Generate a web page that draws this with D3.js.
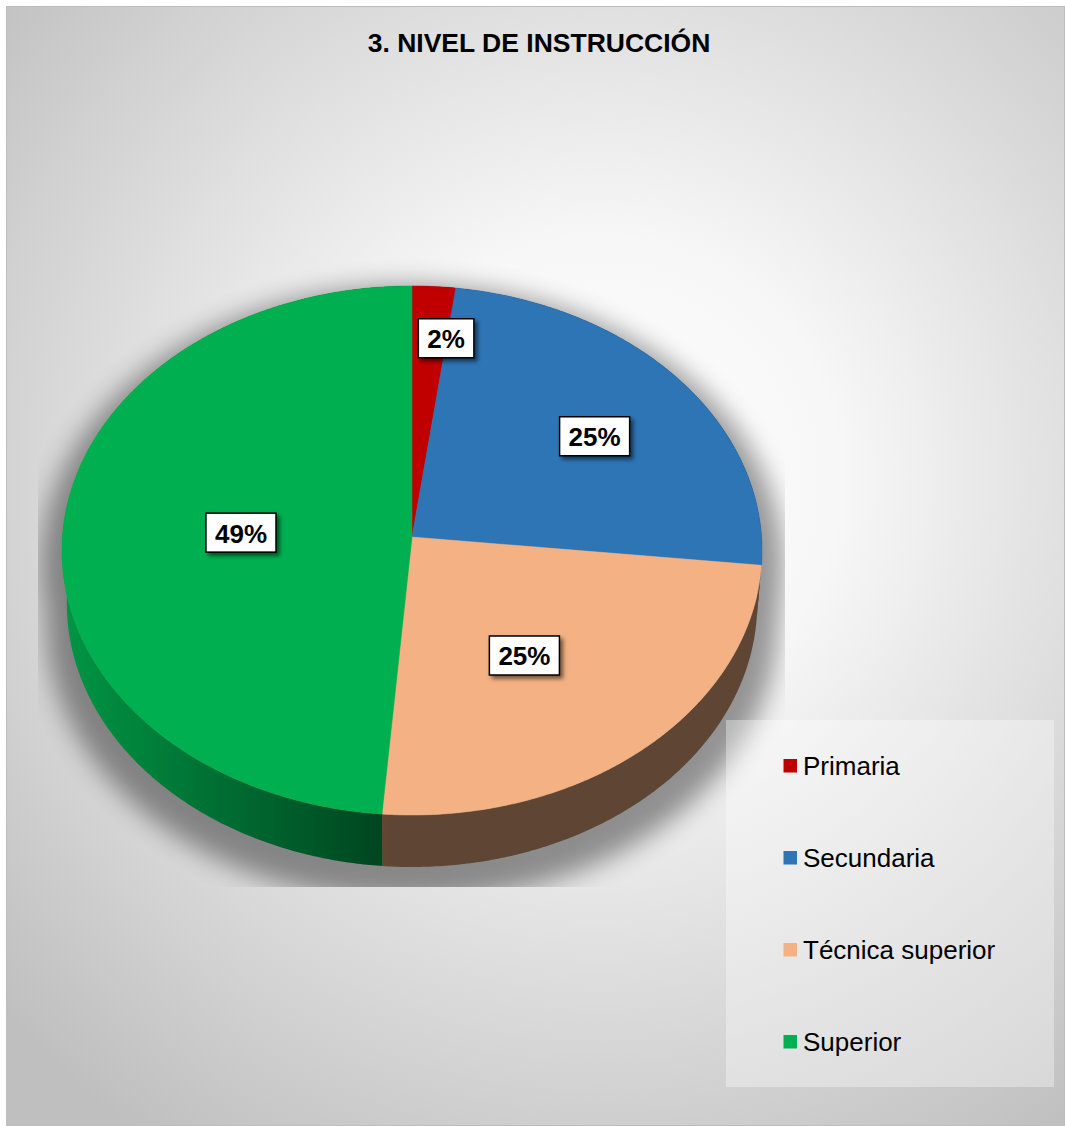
<!DOCTYPE html>
<html>
<head>
<meta charset="utf-8">
<script src="https://cdn.jsdelivr.net/npm/d3@7"></script>
<style>
  html, body { margin: 0; padding: 0; background: #ffffff; }
  svg { display: block; }
  text { font-family: Arial, "Liberation Sans", sans-serif; }
</style>
</head>
<body>
<svg id="chart" width="1065" height="1126"></svg>
<script>
// ---------- data ----------
const title = "3. NIVEL DE INSTRUCCIÓN";
const categories = ["Primaria", "Secundaria", "Técnica superior", "Superior"];
const values = [2.1, 24.6, 24.6, 48.7];
const labelTexts = ["2%", "25%", "25%", "49%"];
const colors = ["#C00000", "#2E75B6", "#F4B183", "#00B050"];

// ---------- layout ----------
const cx = 412, cy = 537;          // screen position of pie centre (top face)
const R = 1, dist = 12.84, elev = Math.asin(0.7548), focal = 4488, thick = 0.235;
const labelRadius = [0.79, 0.66, 0.54, 0.49];
const labelShiftDeg = [3.6, 2, 4, -0.4];

const svg = d3.select("#chart");
const defs = svg.append("defs");

// background radial gradient
const bg = defs.append("radialGradient").attr("id", "bgGrad")
  .attr("gradientUnits", "userSpaceOnUse")
  .attr("cx", 600).attr("cy", 480).attr("r", 800);
bg.append("stop").attr("offset", 0).attr("stop-color", "#ffffff");
bg.append("stop").attr("offset", 0.3).attr("stop-color", "#f7f7f7");
bg.append("stop").attr("offset", 1).attr("stop-color", "#bfbfbf");

const blur = defs.append("filter").attr("id", "pieShadow")
  .attr("x", "-20%").attr("y", "-20%").attr("width", "140%").attr("height", "140%");
blur.append("feGaussianBlur").attr("stdDeviation", 12);

const ds = defs.append("filter").attr("id", "lblShadow")
  .attr("x", "-30%").attr("y", "-30%").attr("width", "160%").attr("height", "170%");
ds.append("feDropShadow").attr("dx", 3).attr("dy", 3).attr("stdDeviation", 2.2)
  .attr("flood-color", "#000").attr("flood-opacity", 0.55);

defs.append("clipPath").attr("id", "plotClip")
  .append("rect").attr("x", 38).attr("y", 200).attr("width", 747).attr("height", 687);

svg.append("rect").attr("x", 6.5).attr("y", 6.5).attr("width", 1058).attr("height", 1119)
  .attr("fill", "url(#bgGrad)").attr("stroke", "#bdbdbd").attr("stroke-width", 1);

// title
svg.append("text").attr("x", 539).attr("y", 52).attr("text-anchor", "middle")
  .attr("font-size", 26.5).attr("font-weight", "bold").attr("fill", "#000").text(title);

// ---------- 3D projection ----------
const se = Math.sin(elev), ce = Math.cos(elev);
function proj(X, Y, Z) {
  const depth = dist - Y * se + Z * ce;
  const sy = Y * ce + Z * se;
  return [cx + focal * X / depth, cy - focal * sy / depth];
}
function rim(phi, r, Y) { return proj(R * r * Math.sin(phi), Y, R * r * Math.cos(phi)); }

const pie = d3.pie().sort(null).value(d => d)(values);
const line = d3.line();

function arcAngles(s) {
  const n = Math.max(2, Math.ceil((s.endAngle - s.startAngle) / (Math.PI / 360)));
  return d3.range(n + 1).map(k => s.startAngle + (s.endAngle - s.startAngle) * k / n);
}
function topPoints(s) {
  return [proj(0, 0, 0)].concat(arcAngles(s).map(a => rim(a, 1, 0)));
}
function sidePoints(s) {
  const a = arcAngles(s);
  return a.map(t => rim(t, 1, 0)).concat(a.slice().reverse().map(t => rim(t, 1, -thick)));
}

// side shading gradients (darker towards the front, lighter towards the left)
const leftX = rim(-Math.PI / 2, 1, 0)[0];
colors.forEach((c, i) => {
  const g = defs.append("linearGradient").attr("id", "side" + i)
    .attr("gradientUnits", "userSpaceOnUse")
    .attr("x1", leftX).attr("y1", 0).attr("x2", cx).attr("y2", 0);
  d3.range(0, 1.0001, 0.05).forEach(t => {
    const factor = Math.max(0.39, 0.35 + 0.5 * (1 - t));
    const b = d3.rgb(c);
    g.append("stop").attr("offset", t)
      .attr("stop-color", d3.rgb(b.r * factor, b.g * factor, b.b * factor).formatHex());
  });
});

// shadow of the pie
const shadowG = svg.append("g").attr("clip-path", "url(#plotClip)")
  .append("g").attr("filter", "url(#pieShadow)").attr("opacity", 0.4)
  .attr("transform", `translate(${cx},${560 + 16}) scale(1.06) translate(${-cx},${-560})`);
pie.forEach(s => {
  shadowG.append("path").attr("d", line(topPoints(s)) + "Z").attr("fill", "#000");
  shadowG.append("path").attr("d", line(sidePoints(s)) + "Z").attr("fill", "#000");
});

// sides
svg.append("g").selectAll("path").data(pie).join("path")
  .attr("d", s => line(sidePoints(s)) + "Z")
  .attr("fill", (s, i) => `url(#side${i})`);

// top faces
svg.append("g").selectAll("path").data(pie).join("path")
  .attr("d", s => line(topPoints(s)) + "Z")
  .attr("fill", (s, i) => colors[i])
  .attr("stroke", (s, i) => colors[i]).attr("stroke-width", 0.5)
  .attr("stroke-linejoin", "round");

// data labels
const lblG = svg.append("g");
pie.forEach((s, i) => {
  const mid = (s.startAngle + s.endAngle) / 2 + labelShiftDeg[i] * Math.PI / 180;
  const [lx, ly] = rim(mid, labelRadius[i], 0);
  const g = lblG.append("g").attr("transform", `translate(${lx},${ly})`);
  const rect = g.append("rect").attr("fill", "#fff").attr("stroke", "#000").attr("stroke-width", 1.5)
    .attr("filter", "url(#lblShadow)");
  const t = g.append("text").attr("text-anchor", "middle").attr("y", 10)
    .attr("font-size", 26).attr("font-weight", "bold").attr("fill", "#000").text(labelTexts[i]);
  const w = t.node().getComputedTextLength() + 18;
  rect.attr("x", -w / 2).attr("y", -19.5).attr("width", w).attr("height", 39);
});

// legend
svg.append("rect").attr("x", 726).attr("y", 720).attr("width", 328).attr("height", 367)
  .attr("fill", "#ffffff").attr("fill-opacity", 0.35);
const legY = d3.scalePoint().domain(categories).range([775, 1051]);
const leg = svg.append("g").selectAll("g").data(categories).join("g")
  .attr("transform", d => `translate(0,${legY(d)})`);
leg.append("rect").attr("x", 783.5).attr("y", -16).attr("width", 13.5).attr("height", 13.5)
  .attr("fill", (d, i) => colors[i]);
leg.append("text").attr("x", 803).attr("y", 0).attr("font-size", 26).attr("fill", "#000").text(d => d);
</script>
</body>
</html>
